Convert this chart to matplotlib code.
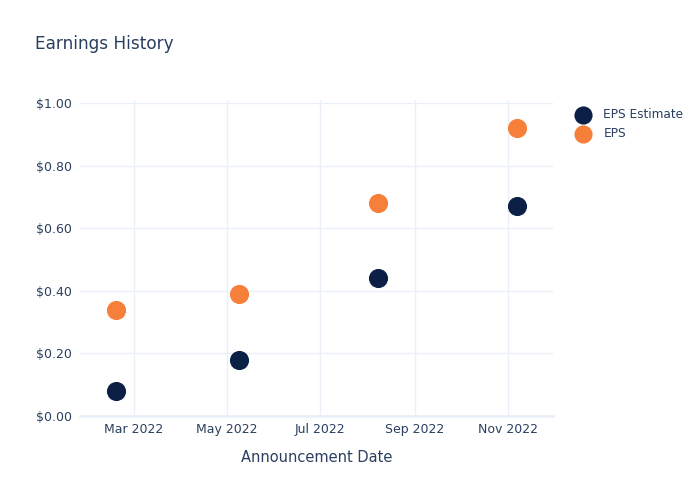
import matplotlib
matplotlib.use("Agg")
import matplotlib.pyplot as plt
import matplotlib.dates as mdates
from matplotlib.ticker import FuncFormatter
import datetime as dt

dates = ["2022-02-17", "2022-05-09", "2022-08-08", "2022-11-07"]
eps_estimate = [0.08, 0.18, 0.44, 0.67]
eps_actual = [0.34, 0.39, 0.68, 0.92]
tick_dates = ["2022-03-01", "2022-05-01", "2022-07-01", "2022-09-01", "2022-11-01"]
tick_labels = ["Mar 2022", "May 2022", "Jul 2022", "Sep 2022", "Nov 2022"]

TXT = "#2a3f5f"
GRID = "#ebf0f8"
NAVY = "#0c1f45"
ORANGE = "#f6803a"

plt.rcParams['font.family'] = ['DejaVu Sans']

W, H = 700, 500
fig = plt.figure(figsize=(7, 5), dpi=100)
l, r, t, b = 80, 553, 100, 416
ax = fig.add_axes([l / W, 1 - b / H, (r - l) / W, (b - t) / H])

xd = [mdates.date2num(dt.datetime.fromisoformat(d)) for d in dates]
td = [mdates.date2num(dt.datetime.fromisoformat(d)) for d in tick_dates]

ax.scatter(xd, eps_estimate, s=190, color=NAVY, label="EPS Estimate", zorder=3, linewidths=0)
ax.scatter(xd, eps_actual, s=190, color=ORANGE, label="EPS", zorder=3, linewidths=0)

px_per_day = (508 - 134) / (td[4] - td[0])
x0 = td[0] - (134 - l) / px_per_day
x1 = td[4] + (r - 508) / px_per_day
ax.set_xlim(x0, x1)
ax.set_ylim(0, (b - t) / 313)

ax.set_xticks(td)
ax.set_xticklabels(tick_labels)
ax.set_yticks([0, 0.2, 0.4, 0.6, 0.8, 1.0])
ax.yaxis.set_major_formatter(FuncFormatter(lambda v, p: f"${v:.2f}"))

ax.grid(True, color=GRID, linewidth=1)
ax.set_axisbelow(True)
for s in ["top", "right", "left"]:
    ax.spines[s].set_visible(False)
ax.spines["bottom"].set_color(GRID)
ax.spines["bottom"].set_linewidth(2)
ax.tick_params(axis="both", length=0, colors=TXT, labelsize=9)
ax.tick_params(axis="x", pad=5)
ax.tick_params(axis="y", pad=6)

ax.set_xlabel("Announcement Date", color=TXT, fontsize=10.5, labelpad=10)

fig.text(35 / W, 1 - 44 / H, "Earnings History", color=TXT, fontsize=12.2, va="center", ha="left")

leg = ax.legend(loc="upper left", bbox_to_anchor=(566 / W, 1 - 103 / H), bbox_transform=fig.transFigure,
                frameon=False, fontsize=8.7, handletextpad=0.7, labelspacing=0.5, borderaxespad=0,
                markerscale=0.95)
for txt in leg.get_texts():
    txt.set_color(TXT)

fig.savefig("out.png", dpi=100)
